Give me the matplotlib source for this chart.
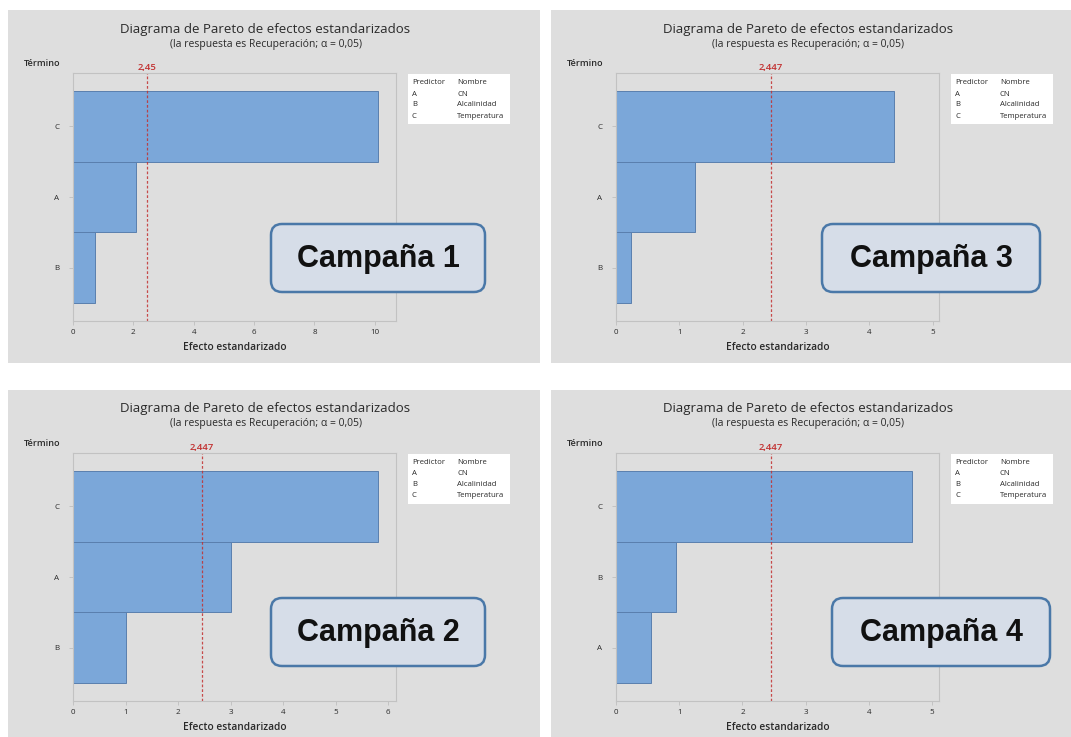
"""Pareto charts of standardized effects for the four recovery campaigns."""

import matplotlib

matplotlib.use("Agg")
import matplotlib.pyplot as plt
from matplotlib.patches import FancyBboxPatch, Rectangle
from matplotlib.transforms import Affine2D

# Standardized effects per campaign (bars listed top to bottom)
terms_c1 = ["C", "A", "B"]
effects_c1 = [10.12, 2.10, 0.73]
terms_c2 = ["C", "A", "B"]
effects_c2 = [5.80, 3.01, 1.01]
terms_c3 = ["C", "A", "B"]
effects_c3 = [4.385, 1.24, 0.24]
terms_c4 = ["C", "B", "A"]
effects_c4 = [4.69, 0.95, 0.555]

# Critical t value (alpha = 0.05) and the label shown above the line
critical = [2.45, 2.447, 2.447, 2.447]
critical_labels = ["2,45", "2,447", "2,447", "2,447"]
campaigns = ["Campaña 1", "Campaña 2", "Campaña 3", "Campaña 4"]
xmax = [10.7, 6.15, 5.1, 5.11]
xticks = [list(range(0, 11, 2)), list(range(0, 7)), list(range(0, 6)), list(range(0, 6))]

predictors = ["A", "B", "C"]
names = ["CN", "Alcalinidad", "Temperatura"]

TITLE = "Diagrama de Pareto de efectos estandarizados"
SUBTITLE = "(la respuesta es Recuperación; α = 0,05)"

W, H = 1071, 737
PANEL_BG = "#dedede"
BAR = "#7ba7d9"
BAR_EDGE = "#5a7fae"
RED = "#c23030"
TEXT = "#2a2a2a"
FONT = "Open Sans"

fig = plt.figure(figsize=(W / 100, H / 100), dpi=100)
fig.patch.set_facecolor("white")
# pixel coordinates, origin top-left
px = Affine2D().scale(1 / W, -1 / H).translate(0, 1) + fig.transFigure


def add_axes_px(x0, y0, x1, y1):
    return fig.add_axes([x0 / W, 1 - y1 / H, (x1 - x0) / W, (y1 - y0) / H])


def pareto_panel(ox, oy, pw, ph, terms, effects, crit, crit_label, xm, ticks):
    fig.add_artist(Rectangle((ox, oy), pw, ph, transform=px, facecolor=PANEL_BG,
                             edgecolor="none", zorder=-5))

    ax_x0, ax_x1 = ox + 65, ox + 388
    ax_y0, ax_y1 = oy + 63, oy + 311
    ax = add_axes_px(ax_x0, ax_y0, ax_x1, ax_y1)
    ax.set_facecolor(PANEL_BG)
    pos = list(range(len(terms)))
    ax.barh(pos, effects, height=1.0, color=BAR, edgecolor=BAR_EDGE, linewidth=0.7)
    ax.axvline(crit, color=RED, linestyle=(0, (2.2, 1.6)), linewidth=0.9, alpha=0.85)
    ax.set_xlim(0, xm)
    ax.set_ylim(len(terms) - 0.25, -0.75)
    ax.set_yticks(pos, terms)
    ax.set_xticks(ticks)
    ax.tick_params(labelsize=5.8, colors=TEXT, length=3, width=0.5, pad=3)
    ax.tick_params(axis="both", color="#b8b8b8")
    ax.tick_params(axis="y", pad=7)
    for lab in ax.get_xticklabels() + ax.get_yticklabels():
        lab.set_family(FONT)
    for sp in ax.spines.values():
        sp.set_color("#c2c2c2")
        sp.set_linewidth(0.8)
    ax.set_xlabel("Efecto estandarizado", fontsize=7.3, family=FONT,
                  fontweight="semibold", color=TEXT, labelpad=4)
    ax.text(crit, 1.004, crit_label, transform=ax.get_xaxis_transform(), ha="center",
            va="bottom", fontsize=6.8, color=RED, family=FONT, fontweight="semibold")

    cx = (ax_x0 + ax_x1) / 2 + 31
    fig.text(cx, oy + 19, TITLE, transform=px, ha="center", va="center",
             fontsize=9.5, family=FONT, color=TEXT)
    fig.text(cx, oy + 34, SUBTITLE, transform=px, ha="center", va="center",
             fontsize=7.5, family=FONT, color=TEXT)
    fig.text(ox + 16, oy + 54, "Término", transform=px, ha="left", va="center",
             fontsize=6.6, family=FONT, fontweight="semibold", color=TEXT)

    # predictor key
    lx, ly = ox + 400, oy + 64
    fig.add_artist(Rectangle((lx, ly), 102, 50, transform=px, facecolor="white",
                             edgecolor="none", zorder=2))
    rows = [("Predictor", "Nombre")] + list(zip(predictors, names))
    for i, (p, n) in enumerate(rows):
        fig.text(lx + 4, ly + 9 + i * 11, p, transform=px, ha="left", va="center",
                 fontsize=5.6, family=FONT, color=TEXT, zorder=3)
        fig.text(lx + 49, ly + 9 + i * 11, n, transform=px, ha="left", va="center",
                 fontsize=5.6, family=FONT, color=TEXT, zorder=3)
    return ax


def campaign_box(x0, y0, x1, y1, label):
    fig.add_artist(FancyBboxPatch((x0, y0), x1 - x0, y1 - y0,
                                  boxstyle="round,pad=0,rounding_size=11", transform=px,
                                  facecolor="#d6dde8", edgecolor="#4a78a8",
                                  linewidth=1.8, zorder=6))
    fig.text((x0 + x1) / 2, (y0 + y1) / 2 + 1, label, transform=px, ha="center",
             va="center", fontsize=22, fontweight="bold", family="Liberation Sans",
             color="#111111", zorder=7)


panels = [
    (8, 10, terms_c1, effects_c1, 0, (271, 224, 485, 292)),
    (8, 390, terms_c2, effects_c2, 1, (271, 598, 485, 666)),
    (551, 10, terms_c3, effects_c3, 2, (822, 224, 1040, 292)),
    (551, 390, terms_c4, effects_c4, 3, (832, 598, 1050, 666)),
]
for ox, oy, terms, effects, k, box in panels:
    pw = 532 if ox < 500 else W - ox
    ph = 353 if oy < 100 else H - oy
    pareto_panel(ox, oy, pw, ph, terms, effects, critical[k], critical_labels[k],
                 xmax[k], xticks[k])
    campaign_box(*box, campaigns[k])

fig.savefig("out.png", dpi=100, facecolor="white")
